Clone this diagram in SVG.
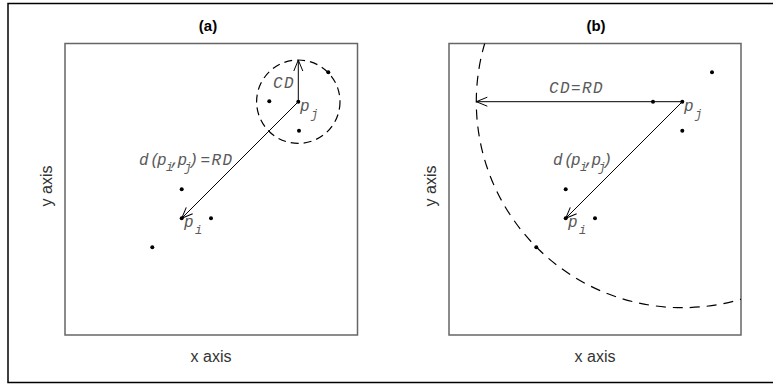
<svg xmlns="http://www.w3.org/2000/svg" width="773" height="385" viewBox="0 0 773 385">
<style>
.panel{fill:none;stroke:#666;stroke-width:1.5}
.title{font-family:"Liberation Sans",Arial,sans-serif;font-weight:bold;font-size:15px;fill:#000;text-anchor:middle}
.axis{font-family:"Liberation Sans",Arial,sans-serif;font-size:16px;fill:#333;text-anchor:middle}
.lbl{font-family:"Liberation Mono","Courier New",monospace;font-style:italic;font-size:16px;fill:#5a5a5a;letter-spacing:1.4px}
.sub{font-size:12px;letter-spacing:0}
.dot{fill:#000}
.ln{stroke:#000;stroke-width:1;fill:none}
.dashA{stroke:#000;stroke-width:1.2;fill:none;stroke-dasharray:8 5}
.dashB{stroke:#000;stroke-width:1.2;fill:none;stroke-dasharray:10 7}
</style>
<defs>
<marker id="arr" markerUnits="userSpaceOnUse" markerWidth="14" markerHeight="12" refX="12" refY="5" orient="auto">
<path d="M1,0.5 L12,5 L1,9.5" fill="none" stroke="#000" stroke-width="1"/>
</marker>
<clipPath id="clipB"><rect x="449" y="43.5" width="292" height="291.5"/></clipPath>
</defs>
<rect x="8" y="3.5" width="780" height="379" fill="none" stroke="#000" stroke-width="1.5"/>

<g id="panel-a">
<text class="title" x="208" y="31">(a)</text>
<rect class="panel" x="65" y="43.5" width="292.5" height="291.5"/>
<text class="axis" x="211" y="362">x axis</text>
<text class="axis" transform="translate(52,186) rotate(-90)">y axis</text>
</g>
<g id="panel-b">
<text class="title" x="596" y="31">(b)</text>
<rect class="panel" x="449" y="43.5" width="292" height="291.5"/>
<text class="axis" x="595" y="362">x axis</text>
<text class="axis" transform="translate(436,186) rotate(-90)">y axis</text>
</g>

<g id="connectors">
<circle class="dashA" cx="298.3" cy="101.7" r="41.7"/>
<line class="ln" x1="298.3" y1="101.7" x2="298.3" y2="60" marker-end="url(#arr)"/>
<line class="ln" x1="298.3" y1="101.7" x2="181.7" y2="218.3" marker-end="url(#arr)"/>
<circle class="dashB" cx="682.3" cy="101.7" r="206" clip-path="url(#clipB)"/>
<line class="ln" x1="682.3" y1="101.7" x2="476.3" y2="101.7" marker-end="url(#arr)"/>
<line class="ln" x1="682.3" y1="101.7" x2="565.7" y2="218.3" marker-end="url(#arr)"/>
</g>

<g id="points-a">
<circle class="dot" cx="298.3" cy="101.7" r="2"/>
<circle class="dot" cx="328.3" cy="72.3" r="2"/>
<circle class="dot" cx="269.3" cy="101.3" r="2"/>
<circle class="dot" cx="299" cy="130.7" r="2"/>
<circle class="dot" cx="181.7" cy="189.3" r="2"/>
<circle class="dot" cx="181.7" cy="218.3" r="2"/>
<circle class="dot" cx="211" cy="218.3" r="2"/>
<circle class="dot" cx="152.3" cy="247.3" r="2"/>
</g>
<g id="points-b">
<circle class="dot" cx="682.3" cy="101.7" r="2"/>
<circle class="dot" cx="653" cy="101.7" r="2"/>
<circle class="dot" cx="712" cy="72.3" r="2"/>
<circle class="dot" cx="682.3" cy="130.7" r="2"/>
<circle class="dot" cx="565.7" cy="189.3" r="2"/>
<circle class="dot" cx="565.7" cy="218.3" r="2"/>
<circle class="dot" cx="595" cy="218.3" r="2"/>
<circle class="dot" cx="536.3" cy="247.3" r="2"/>
</g>

<g id="labels-a">
<text class="lbl" x="273" y="88">CD</text>
<text class="lbl" x="300" y="111">p<tspan class="sub" x="311" y="118">j</tspan></text>
<text class="lbl" x="184" y="227">p<tspan class="sub" x="195" y="234">i</tspan></text>
<text class="lbl" x="139" y="165">d<tspan x="150">(</tspan><tspan x="157">p</tspan><tspan class="sub" x="166" y="171">i</tspan><tspan x="170.5" y="165">,</tspan><tspan x="177.5">p</tspan><tspan class="sub" x="184.5" y="171">j</tspan><tspan x="188.5" y="165">)</tspan><tspan x="200.5">=RD</tspan></text>
</g>
<g id="labels-b">
<text class="lbl" x="549" y="93">CD=RD</text>
<text class="lbl" x="684" y="111">p<tspan class="sub" x="695" y="118">j</tspan></text>
<text class="lbl" x="568" y="227">p<tspan class="sub" x="579" y="234">i</tspan></text>
<text class="lbl" x="553" y="165">d<tspan x="564">(</tspan><tspan x="571">p</tspan><tspan class="sub" x="580" y="171">i</tspan><tspan x="584.5" y="165">,</tspan><tspan x="591.5">p</tspan><tspan class="sub" x="598.5" y="171">j</tspan><tspan x="602.5" y="165">)</tspan></text>
</g>
</svg>
